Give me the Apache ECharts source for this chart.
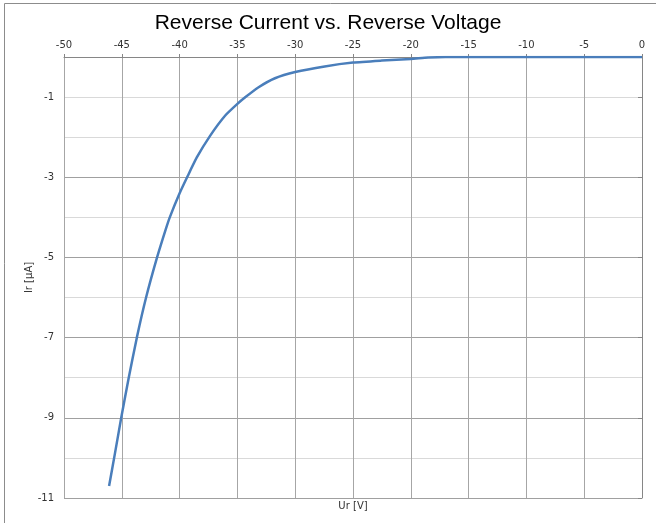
<!DOCTYPE html>
<html lang="en" style="height: 100%">
<head>
  <meta charset="utf-8">
  <title>Reverse Current vs. Reverse Voltage</title>
</head>
<body style="height: 100%; margin: 0">
  <div id="container" style="width: 656px;height: 523px"></div>

  <script type="text/javascript" src="https://cdn.jsdelivr.net/npm/echarts@6/dist/echarts.min.js"></script>
  <script type="text/javascript">
    // reverse voltage Ur [V] and reverse current Ir [uA]
    const ur = [-46.1, -45.6, -45.05, -44.4, -43.7, -42.9, -41.95, -41.2, -40.85, -40, -39.35, -38.5,
                -37.35, -36.05, -35, -34.3, -33.2, -31.75, -30, -27.45, -25, -22.5, -20, -18.5, -17, 0];
    const ir = [-10.7, -9.9, -9, -8, -7, -6, -5, -4.3, -4, -3.4, -3, -2.5,
                -1.96, -1.46, -1.17, -1, -0.76, -0.53, -0.375, -0.235, -0.14, -0.09, -0.05, -0.015, 0, 0];

    const xTicks = { min: -50, max: 0, step: 5 };
    const yTicks = { min: -11, max: 0, step: 2 };

    var dom = document.getElementById('container');
    var myChart = echarts.init(dom, null, { renderer: 'canvas' });

    var labelFont = { fontFamily: 'DejaVu Sans, Verdana', fontSize: 10, color: '#333' };

    var option = {
      animation: false,
      title: {
        text: 'Reverse Current vs. Reverse Voltage',
        left: 'center',
        top: 8,
        textStyle: { fontFamily: 'Liberation Sans, Arial', fontSize: 21, fontWeight: 'normal', color: '#000' }
      },
      graphic: [{
        type: 'rect',
        shape: { x: 4.5, y: 3.5, width: 800, height: 800 },
        style: { fill: 'none', stroke: '#8c8c8c', lineWidth: 1 },
        silent: true
      }],
      grid: { left: 64, right: 14, top: 57, bottom: 25 },
      xAxis: [{
        type: 'value',
        position: 'top',
        min: xTicks.min,
        max: xTicks.max,
        interval: xTicks.step,
        axisLine: { show: true, lineStyle: { color: '#868686' } },
        axisTick: { show: true, length: 3, lineStyle: { color: '#868686' } },
        axisLabel: Object.assign({ margin: 7 }, labelFont),
        splitLine: { show: true, lineStyle: { color: '#a6a6a6' } }
      }, {
        type: 'value',
        position: 'bottom',
        min: xTicks.min,
        max: xTicks.max,
        name: 'Ur [V]',
        nameLocation: 'middle',
        nameGap: 3,
        nameTextStyle: labelFont,
        axisLine: { show: false },
        axisTick: { show: false },
        axisLabel: { show: false },
        splitLine: { show: false }
      }],
      yAxis: [{
        type: 'value',
        min: yTicks.min,
        max: yTicks.max,
        interval: 1,
        name: 'Ir [\u00b5A]',
        nameLocation: 'middle',
        nameGap: 30,
        nameTextStyle: labelFont,
        axisLine: { show: true, lineStyle: { color: '#868686' } },
        axisTick: { show: false },
        axisLabel: { show: false },
        splitLine: {
          show: true,
          lineStyle: {
            color: ['#a0a0a0', '#d9d9d9', '#a0a0a0', '#d9d9d9', '#a0a0a0', '#d9d9d9',
                    '#a0a0a0', '#d9d9d9', '#a0a0a0', '#d9d9d9', '#d9d9d9', '#d9d9d9']
          }
        }
      }, {
        type: 'value',
        position: 'left',
        min: yTicks.min,
        max: yTicks.max,
        interval: yTicks.step,
        axisLine: { show: false },
        axisTick: { show: true, length: 4, lineStyle: { color: '#868686' } },
        axisLabel: Object.assign({ margin: 10, showMaxLabel: false }, labelFont),
        splitLine: { show: false }
      }],
      series: [{
        name: 'Ir',
        type: 'line',
        xAxisIndex: 0,
        yAxisIndex: 0,
        data: ur.map(function (v, i) { return [v, ir[i]]; }),
        showSymbol: false,
        smooth: 0.2,
        lineStyle: { color: '#4a7ebb', width: 2.5 },
        itemStyle: { color: '#4a7ebb' }
      }]
    };

    myChart.setOption(option);
    window.addEventListener('resize', myChart.resize);
  </script>
</body>
</html>
